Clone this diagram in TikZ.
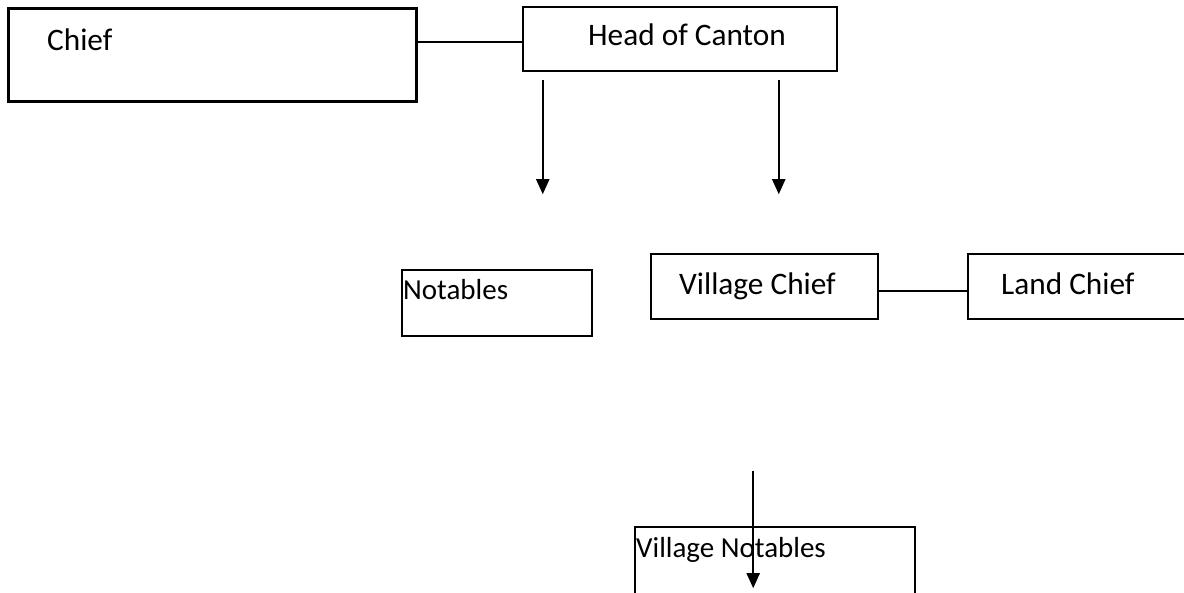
\documentclass[tikz,border=0pt]{standalone}
\usepackage{fontspec}
\setmainfont{Carlito}
\usetikzlibrary{arrows.meta}
\begin{document}
\begin{tikzpicture}[x=1pt,y=-1pt,
    box/.style={draw, line width=2.5pt, inner sep=0pt},
    thinbox/.style={draw, line width=1.6pt, inner sep=0pt},
    lbl/.style={inner sep=0pt, anchor=base west, font=\fontsize{31.3}{37}\selectfont},
    smalllbl/.style={lbl, font=\fontsize{29}{35}\selectfont},
    link/.style={line width=2.2pt},
    down/.style={line width=2pt, -{Triangle[length=15pt,width=13pt]}}]
  % Page frame, the right and bottom boxes run off it
  \useasboundingbox (0,0) rectangle (1184,593);
  \clip (0,0) rectangle (1184,593);

  % Boxes
  \node[box, minimum width=408pt, minimum height=93pt] (chief) at (212.5,55) {};
  \node[box, minimum width=314pt, minimum height=64pt] (canton) at (680,39) {};
  \node[thinbox, minimum width=190pt, minimum height=66pt] (notables) at (497,303) {};
  \node[box, minimum width=227pt, minimum height=65pt] (vchief) at (764.5,286.5) {};
  \node[box, minimum width=232pt, minimum height=65pt] (land) at (1084,286.5) {};
  \node[thinbox, minimum width=280pt, minimum height=83pt] (vnotables) at (775,568.5) {};

  % Labels
  \node[lbl] (chieftxt) at (47,51) {Chief};
  \node[lbl] (cantontxt) at (588,46) {Head of Canton};
  \node[smalllbl] (notablestxt) at (403,300) {Notables};
  \node[lbl] (vchieftxt) at (679,295) {Village Chief};
  \node[lbl] (landtxt) at (1001,295) {Land Chief};
  \node[smalllbl] (vnotablestxt) at (636,557) {Village Notables};

  % Side links
  \draw[link] ([yshift=-3pt]canton.west) -- ([yshift=-3pt]canton.west -| chief.east);
  \draw[link] ([yshift=-4.5pt]vchief.east) -- ([yshift=-4.5pt]land.west);

  % Loose arrows
  \coordinate (a1) at ([shift={(21,8)}]canton.south west);
  \coordinate (a1end) at ([shift={(21,122)}]canton.south west);
  \coordinate (a2) at ([shift={(257,8)}]canton.south west);
  \coordinate (a2end) at ([shift={(257,122)}]canton.south west);
  \coordinate (a3) at ([shift={(119,-55)}]vnotables.north west);
  \coordinate (a3end) at ([shift={(119,62)}]vnotables.north west);
  \draw[down] (a1) -- (a1end);
  \draw[down] (a2) -- (a2end);
  \draw[down] (a3) -- (a3end);
\end{tikzpicture}
\end{document}
